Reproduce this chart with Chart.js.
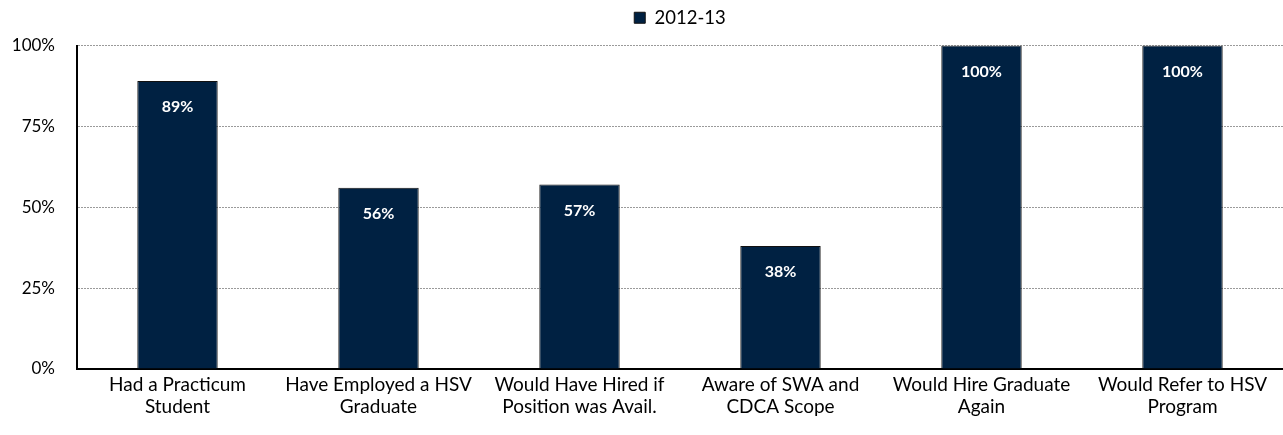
<!DOCTYPE html>
<html>
<head>
<meta charset="utf-8">
<script src="https://cdn.jsdelivr.net/npm/chart.js@4"></script>
<style>
  html, body { margin: 0; padding: 0; background: #fff; }
  #wrap { width: 1283px; height: 435px; }
</style>
</head>
<body>
<div id="wrap"><canvas id="surveyChart"></canvas></div>
<script>
const categories = [
    ['Had a Practicum', 'Student'],
    ['Have Employed a HSV', 'Graduate'],
    ['Would Have Hired if', 'Position was Avail.'],
    ['Aware of SWA and', 'CDCA Scope'],
    ['Would Hire Graduate', 'Again'],
    ['Would Refer to HSV', 'Program']
];
const seriesName = '2012-13';
const values = [89, 56, 57, 38, 100, 100];
const yTicks = [0, 25, 50, 75, 100];

const FONT = 'Lato, "Open Sans", sans-serif';

// white value labels inside the top of each bar
const barLabels = {
    id: 'barLabels',
    afterDatasetsDraw(chart) {
        const ctx = chart.ctx;
        const meta = chart.getDatasetMeta(0);
        ctx.save();
        ctx.fillStyle = '#ffffff';
        ctx.font = 'bold 16px ' + FONT;
        ctx.textAlign = 'center';
        ctx.textBaseline = 'middle';
        meta.data.forEach((bar, i) => {
            ctx.fillText(values[i] + '%', bar.x, bar.y + 26);
        });
        ctx.restore();
    }
};

// centre the legend over the plot area and lift it a little off the grid
const placeLegend = {
    id: 'placeLegend',
    afterLayout(chart) {
        const lg = chart.legend;
        lg.left = chart.chartArea.left;
        lg.right = chart.chartArea.right;
        lg.top -= 8.5;
        lg.bottom -= 8.5;
    }
};

new Chart(document.getElementById('surveyChart'), {
    type: 'bar',
    data: {
        labels: categories,
        datasets: [{
            label: seriesName,
            data: values,
            backgroundColor: '#002142',
            borderColor: '#111111',
            borderWidth: 1,
            categoryPercentage: 1,
            barPercentage: 0.4
        }]
    },
    options: {
        responsive: true,
        maintainAspectRatio: false,
        animation: false,
        layout: { padding: { left: 0, right: 0, top: 0, bottom: 12 } },
        plugins: {
            tooltip: { enabled: false },
            legend: {
                position: 'top',
                labels: {
                    boxWidth: 11,
                    boxHeight: 11,
                    padding: 17,
                    color: '#000',
                    font: { family: FONT, size: 18.5 }
                }
            }
        },
        scales: {
            x: {
                grid: { display: false, drawTicks: false },
                border: { display: true, color: '#000', width: 2 },
                ticks: {
                    color: '#000',
                    font: { family: FONT, size: 19, lineHeight: 1.16 },
                    maxRotation: 0,
                    autoSkip: false,
                    padding: 5
                }
            },
            y: {
                min: 0,
                max: 100,
                afterBuildTicks(axis) {
                    axis.ticks = yTicks.map(v => ({ value: v }));
                },
                afterFit(axis) {
                    axis.width = 77;
                },
                grid: {
                    color: '#9a9a9a',
                    lineWidth: 1,
                    drawTicks: false
                },
                border: { display: true, color: '#000', width: 2, dash: [2, 1] },
                ticks: {
                    color: '#000',
                    padding: 22,
                    font: { family: FONT, size: 17 },
                    callback: v => v + '%'
                }
            }
        }
    },
    plugins: [barLabels, placeLegend]
});
</script>
</body>
</html>
